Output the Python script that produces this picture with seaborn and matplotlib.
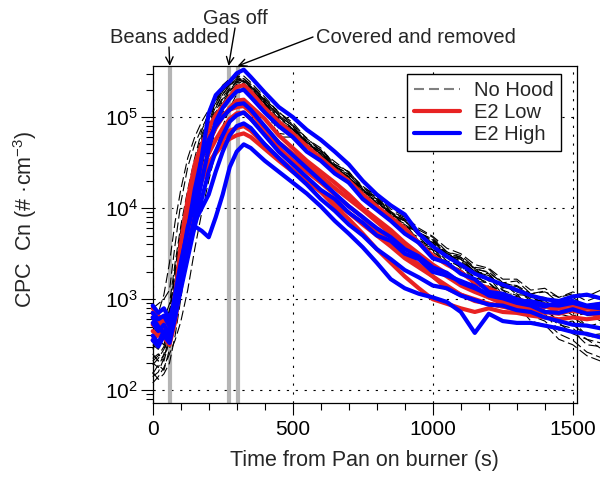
import matplotlib
matplotlib.use("Agg")
import numpy as np
import pandas as pd
import seaborn as sns
import matplotlib.pyplot as plt
from matplotlib.lines import Line2D
from matplotlib.ticker import MultipleLocator, LogLocator

# ---------------- data ----------------
# time from pan on burner (s)
time_s = [0, 20, 40, 60, 80, 100,
          125, 150, 175, 200, 225, 250, 275, 300, 325, 350,
          400, 450,
          500, 550, 600, 650, 700, 750, 800, 850, 900, 950,
          1000, 1050, 1100, 1150, 1200, 1250, 1300, 1350, 1400, 1450,
          1500, 1550, 1600]

# event markers (s): beans added, gas off, covered and removed
event_times = [61, 271, 303]
event_labels = ["Beans added", "Gas off", "Covered and removed"]

# CPC number concentration, stored as log10(#/cm3)
no_hood_log10 = [
    [2.30, 2.25, 2.40, 2.70, 3.20, 3.60, 4.00, 4.40, 4.70, 4.95, 5.15, 5.28, 5.38, 5.45, 5.42, 5.35, 5.18, 5.02,
     4.90, 4.70, 4.62, 4.45, 4.37, 4.20, 4.10, 3.92, 3.87, 3.70, 3.62, 3.48, 3.45, 3.30, 3.28, 3.12, 3.14, 2.98, 2.99, 2.84, 2.86, 2.70, 2.74],
    [2.15, 2.20, 2.35, 2.60, 3.05, 3.45, 3.90, 4.30, 4.62, 4.88, 5.10, 5.25, 5.35, 5.40, 5.36, 5.30, 5.15, 4.95,
     4.86, 4.68, 4.60, 4.42, 4.34, 4.15, 4.08, 3.90, 3.83, 3.64, 3.60, 3.44, 3.40, 3.22, 3.24, 3.05, 3.06, 2.88, 2.92, 2.74, 2.76, 2.60, 2.62],
    [2.50, 2.45, 2.60, 2.85, 3.30, 3.75, 4.15, 4.50, 4.80, 5.02, 5.20, 5.32, 5.40, 5.48, 5.45, 5.38, 5.22, 5.05,
     4.94, 4.76, 4.66, 4.48, 4.40, 4.22, 4.15, 3.96, 3.90, 3.76, 3.68, 3.52, 3.48, 3.35, 3.33, 3.18, 3.20, 3.06, 3.09, 2.96, 3.02, 2.92, 2.96],
    [2.35, 2.40, 2.32, 2.55, 2.95, 3.40, 3.85, 4.25, 4.55, 4.80, 5.05, 5.20, 5.30, 5.35, 5.33, 5.28, 5.12, 4.90,
     4.82, 4.66, 4.58, 4.40, 4.32, 4.12, 4.05, 3.86, 3.80, 3.62, 3.56, 3.40, 3.37, 3.20, 3.18, 3.02, 3.03, 2.85, 2.84, 2.66, 2.65, 2.50, 2.48],
    [2.90, 2.95, 3.00, 3.10, 3.60, 4.05, 4.45, 4.70, 4.88, 5.02, 5.22, 5.35, 5.42, 5.46, 5.42, 5.36, 5.20, 5.04,
     4.92, 4.74, 4.64, 4.48, 4.40, 4.22, 4.12, 3.96, 3.88, 3.73, 3.65, 3.50, 3.46, 3.33, 3.30, 3.17, 3.15, 3.06, 3.08, 3.02, 3.08, 3.03, 3.10],
    [2.20, 2.12, 2.18, 2.30, 2.60, 3.00, 3.50, 3.95, 4.30, 4.60, 4.85, 5.05, 5.20, 5.30, 5.32, 5.28, 5.14, 4.82,
     4.80, 4.62, 4.56, 4.38, 4.30, 4.12, 4.03, 3.85, 3.78, 3.60, 3.54, 3.38, 3.32, 3.15, 3.12, 2.95, 2.94, 2.76, 2.72, 2.56, 2.50, 2.38, 2.32],
    [2.45, 2.55, 2.50, 2.75, 3.15, 3.55, 4.00, 4.38, 4.68, 4.92, 5.12, 5.25, 5.35, 5.42, 5.40, 5.32, 5.16, 4.98,
     4.88, 4.70, 4.60, 4.44, 4.34, 4.18, 4.08, 3.92, 3.86, 3.70, 3.64, 3.48, 3.44, 3.30, 3.26, 3.13, 3.10, 2.98, 2.94, 2.84, 2.80, 2.70, 2.68],
    [2.08, 2.15, 2.25, 2.40, 2.55, 2.75, 3.10, 3.55, 3.95, 4.30, 4.62, 4.90, 5.10, 5.25, 5.30, 5.26, 5.12, 4.78,
     4.78, 4.62, 4.55, 4.38, 4.28, 4.14, 4.00, 3.86, 3.76, 3.62, 3.52, 3.40, 3.32, 3.20, 3.12, 3.00, 2.94, 2.82, 2.76, 2.62, 2.55, 2.42, 2.36],
    [2.60, 2.70, 2.78, 2.95, 3.40, 3.80, 4.20, 4.55, 4.85, 5.05, 5.22, 5.32, 5.40, 5.42, 5.38, 5.30, 5.15, 5.00,
     4.87, 4.73, 4.60, 4.46, 4.33, 4.20, 4.06, 3.95, 3.82, 3.72, 3.60, 3.50, 3.40, 3.32, 3.22, 3.15, 3.08, 3.02, 2.96, 2.92, 2.86, 2.84, 2.80],
    [2.28, 2.35, 2.45, 2.62, 3.00, 3.35, 3.75, 4.15, 4.48, 4.75, 5.00, 5.18, 5.30, 5.38, 5.36, 5.30, 5.16, 4.92,
     4.88, 4.72, 4.62, 4.46, 4.37, 4.20, 4.12, 3.95, 3.88, 3.73, 3.66, 3.52, 3.46, 3.34, 3.29, 3.18, 3.14, 3.04, 3.02, 2.94, 2.92, 2.86, 2.87],
    [2.70, 2.62, 2.72, 2.88, 3.25, 3.65, 4.05, 4.45, 4.75, 5.00, 5.18, 5.30, 5.38, 5.44, 5.40, 5.34, 5.18, 5.02,
     4.90, 4.72, 4.64, 4.46, 4.38, 4.20, 4.10, 3.94, 3.86, 3.72, 3.64, 3.50, 3.44, 3.30, 3.24, 3.10, 3.04, 2.92, 2.88, 2.76, 2.72, 2.60, 2.57],
    [2.40, 2.32, 2.38, 2.50, 2.85, 3.25, 3.70, 4.10, 4.45, 4.72, 4.98, 5.15, 5.28, 5.36, 5.35, 5.30, 5.15, 4.88,
     4.87, 4.70, 4.62, 4.44, 4.35, 4.18, 4.10, 3.94, 3.86, 3.70, 3.62, 3.48, 3.42, 3.30, 3.26, 3.14, 3.10, 3.00, 2.98, 2.90, 2.90, 2.82, 2.82],
    [2.75, 2.85, 3.05, 3.40, 3.85, 4.20, 4.55, 4.78, 4.95, 5.08, 5.20, 5.30, 5.38, 5.42, 5.40, 5.33, 5.17, 5.02,
     4.86, 4.74, 4.58, 4.47, 4.32, 4.21, 4.05, 3.96, 3.80, 3.73, 3.58, 3.52, 3.38, 3.34, 3.20, 3.18, 3.05, 3.04, 2.92, 2.93, 2.82, 2.84, 2.76],
    [2.18, 2.28, 2.22, 2.45, 2.80, 3.15, 3.60, 4.00, 4.38, 4.66, 4.92, 5.12, 5.25, 5.34, 5.33, 5.27, 5.10, 4.96,
     4.80, 4.68, 4.52, 4.42, 4.26, 4.16, 4.00, 3.92, 3.76, 3.68, 3.54, 3.47, 3.34, 3.28, 3.14, 3.10, 2.96, 2.92, 2.80, 2.74, 2.62, 2.56, 2.46],
    [2.55, 2.48, 2.58, 2.80, 3.35, 3.70, 4.10, 4.48, 4.76, 4.98, 5.16, 5.28, 5.36, 5.41, 5.39, 5.33, 5.19, 5.06,
     4.91, 4.77, 4.63, 4.51, 4.39, 4.24, 4.13, 3.99, 3.91, 3.78, 3.69, 3.56, 3.50, 3.38, 3.34, 3.22, 3.22, 3.10, 3.12, 3.02, 3.06, 2.98, 3.04],
    [2.32, 2.38, 2.48, 2.66, 3.10, 3.50, 3.92, 4.32, 4.62, 4.86, 5.06, 5.22, 5.32, 5.39, 5.37, 5.31, 5.14, 4.97,
     4.84, 4.66, 4.56, 4.40, 4.30, 4.14, 4.04, 3.88, 3.80, 3.64, 3.57, 3.42, 3.36, 3.24, 3.18, 3.06, 3.00, 2.88, 2.84, 2.72, 2.68, 2.56, 2.52],
]

e2_low_log10 = [
    [2.90, 2.82, 2.75, 2.62, 3.00, 3.60, 4.10, 4.48, 4.70, 4.88, 5.02, 5.12, 5.22, 5.33, 5.35, 5.28, 5.10, 4.95,
     4.82, 4.68, 4.55, 4.42, 4.30, 4.15, 4.02, 3.90, 3.78, 3.62, 3.48, 3.38, 3.30, 3.18, 3.12, 3.05, 3.00, 2.96, 2.94, 2.92, 2.95, 2.92, 2.95],
    [2.80, 2.75, 2.70, 2.58, 2.90, 3.40, 3.95, 4.35, 4.55, 4.72, 4.88, 5.00, 5.10, 5.18, 5.19, 5.12, 4.98, 4.80,
     4.66, 4.52, 4.40, 4.28, 4.15, 4.00, 3.88, 3.76, 3.62, 3.50, 3.38, 3.28, 3.18, 3.10, 3.02, 2.95, 2.92, 2.88, 2.85, 2.90, 2.87, 2.85, 2.88],
    [2.65, 2.60, 2.68, 2.52, 2.85, 3.30, 3.80, 4.20, 4.40, 4.60, 4.75, 4.88, 4.98, 5.04, 5.05, 4.98, 4.82, 4.66,
     4.52, 4.40, 4.28, 4.15, 4.02, 3.90, 3.75, 3.62, 3.50, 3.38, 3.25, 3.12, 3.05, 3.00, 2.95, 2.92, 2.88, 2.90, 2.86, 2.84, 2.88, 2.85, 2.82],
    [2.55, 2.62, 2.58, 2.50, 2.75, 3.20, 3.70, 4.05, 4.30, 4.48, 4.62, 4.75, 4.85, 4.88, 4.90, 4.85, 4.70, 4.55,
     4.42, 4.30, 4.18, 4.02, 3.88, 3.72, 3.55, 3.40, 3.25, 3.12, 3.00, 2.95, 2.90, 2.86, 2.90, 2.86, 2.85, 2.82, 2.80, 2.78, 2.80, 2.78, 2.80],
    [2.72, 2.68, 2.60, 2.55, 2.80, 3.25, 3.75, 4.10, 4.35, 4.50, 4.60, 4.70, 4.76, 4.80, 4.82, 4.78, 4.65, 4.52,
     4.40, 4.30, 4.18, 4.05, 3.95, 3.82, 3.70, 3.58, 3.45, 3.35, 3.25, 3.15, 3.05, 2.98, 2.95, 2.92, 2.90, 2.88, 2.92, 2.90, 2.88, 2.90, 2.92],
    [2.85, 2.78, 2.72, 2.66, 3.05, 3.50, 4.00, 4.40, 4.60, 4.78, 4.92, 5.02, 5.08, 5.11, 5.12, 5.05, 4.88, 4.72,
     4.60, 4.48, 4.35, 4.22, 4.10, 3.98, 3.85, 3.72, 3.60, 3.48, 3.35, 3.25, 3.15, 3.08, 3.02, 2.98, 2.95, 2.92, 2.92, 2.95, 2.92, 2.90, 2.90],
]

e2_high_log10 = [
    [2.93, 2.85, 2.90, 2.78, 3.00, 3.35, 3.79, 4.05, 4.56, 5.04, 5.24, 5.32, 5.39, 5.48, 5.52, 5.44, 5.27, 5.11,
     5.00, 4.86, 4.75, 4.62, 4.48, 4.30, 4.15, 4.03, 3.93, 3.72, 3.58, 3.47, 3.38, 3.28, 3.22, 3.16, 3.10, 3.04, 3.00, 2.98, 3.03, 3.05, 3.01],
    [2.74, 2.65, 2.72, 2.60, 2.90, 3.20, 3.55, 3.90, 4.30, 4.65, 4.95, 5.10, 5.20, 5.28, 5.30, 5.22, 5.05, 4.90,
     4.78, 4.62, 4.52, 4.38, 4.28, 4.10, 3.98, 3.86, 3.72, 3.62, 3.45, 3.40, 3.28, 3.22, 3.08, 3.06, 3.00, 2.96, 2.92, 2.97, 2.98, 2.93, 2.95],
    [2.55, 2.48, 2.60, 2.52, 2.80, 3.10, 3.45, 3.80, 4.10, 4.40, 4.62, 4.80, 4.95, 5.02, 5.05, 4.98, 4.80, 4.62,
     4.48, 4.34, 4.20, 4.10, 3.95, 3.84, 3.70, 3.64, 3.50, 3.44, 3.30, 3.26, 3.20, 3.14, 3.04, 3.01, 2.96, 2.93, 2.86, 2.85, 2.89, 2.84, 2.85],
    [2.80, 2.70, 2.62, 2.68, 2.85, 3.15, 3.50, 3.85, 4.00, 4.15, 4.40, 4.62, 4.80, 4.90, 4.93, 4.88, 4.70, 4.55,
     4.40, 4.26, 4.10, 3.97, 3.82, 3.70, 3.55, 3.44, 3.32, 3.24, 3.15, 3.12, 3.04, 2.99, 2.94, 2.93, 2.88, 2.86, 2.80, 2.76, 2.72, 2.71, 2.68],
    [2.60, 2.52, 2.65, 2.58, 2.80, 3.20, 3.55, 3.80, 3.75, 3.68, 3.90, 4.15, 4.45, 4.62, 4.70, 4.66, 4.52, 4.40,
     4.28, 4.16, 4.02, 3.86, 3.72, 3.57, 3.40, 3.22, 3.12, 3.06, 3.02, 2.97, 2.86, 2.63, 2.84, 2.76, 2.74, 2.74, 2.71, 2.68, 2.64, 2.62, 2.58],
    [2.85, 2.78, 2.82, 2.70, 3.05, 3.40, 3.75, 4.20, 4.55, 4.75, 4.90, 5.00, 5.08, 5.14, 5.15, 5.08, 4.90, 4.72,
     4.58, 4.44, 4.30, 4.16, 4.02, 3.90, 3.78, 3.68, 3.55, 3.47, 3.35, 3.29, 3.18, 3.12, 3.05, 3.03, 2.98, 2.98, 2.94, 2.93, 2.96, 2.92, 2.90],
]

group_names = ["No Hood", "E2 Low", "E2 High"]

# ---------------- long table ----------------
rows = []
for gname, runs in zip(group_names, [no_hood_log10, e2_low_log10, e2_high_log10]):
    for i, run in enumerate(runs):
        if len(run) != len(time_s):
            raise ValueError(f"{gname} run {i} has {len(run)} values")
        for t, v in zip(time_s, run):
            rows.append({"group": gname, "run": f"{gname}-{i}", "time": t, "cn": 10.0 ** v})
df = pd.DataFrame(rows)

# ---------------- style ----------------
sns.set_style("ticks")
plt.rcParams["font.family"] = ["Liberation Sans", "DejaVu Sans"]
plt.rcParams["mathtext.fontset"] = "custom"
plt.rcParams["mathtext.rm"] = "Liberation Sans"
plt.rcParams["mathtext.it"] = "Liberation Sans:italic"
plt.rcParams["mathtext.bf"] = "Liberation Sans:bold"

RED = "#e82222"
BLUE = "#0000ff"

fig = plt.figure(figsize=(6.0, 4.79), dpi=100)
ax = fig.add_axes([0.2545, 0.1587, 0.7072, 0.7035])
ax.set_yscale("log")

styles = {
    "No Hood": dict(color="black", lw=0.8, ls=(0, (9, 3.5)), zorder=3),
    "E2 Low": dict(color=RED, lw=3.0, ls="-", zorder=4),
    "E2 High": dict(color=BLUE, lw=3.0, ls="-", zorder=5),
}
for g in group_names:
    sns.lineplot(data=df[df["group"] == g], x="time", y="cn", units="run",
                 estimator=None, legend=False, ax=ax, clip_on=False,
                 solid_joinstyle="round", **styles[g])

for t in event_times:
    ax.axvline(t, color="#b4b4b4", lw=3.0, zorder=1.5)

ax.set_xlim(0, 1515)
ax.set_ylim(72.6, 3.63e5)

ax.set_xticks([0, 500, 1000, 1500])
ax.xaxis.set_minor_locator(MultipleLocator(100))
ax.yaxis.set_major_locator(LogLocator(base=10))
ax.yaxis.set_minor_locator(LogLocator(base=10, subs=range(2, 10)))

ax.grid(True, which="major", color="black", ls=(0, (2, 6)), lw=0.8)
ax.set_axisbelow(True)

ax.tick_params(which="major", direction="out", length=8.5, width=0.8,
               labelsize=15, colors="black", top=False, right=False)
ax.tick_params(which="minor", direction="out", length=5, width=0.8,
               top=False, right=False, color="black")
ax.tick_params(axis="y", which="major", pad=2)
for sp in ax.spines.values():
    sp.set_visible(True)
    sp.set_color("black")
    sp.set_linewidth(0.9)

ax.set_xlabel("Time from Pan on burner (s)", fontsize=15.5, labelpad=8)
ax.set_ylabel(r"CPC  Cn (# ·cm$^{\mathregular{-3}}$)", fontsize=15.5)
ax.yaxis.set_label_coords(-0.268, 0.546)

handles = [
    Line2D([], [], color="#808080", lw=1.5, ls=(0, (4.8, 2.4))),
    Line2D([], [], color=RED, lw=3.0),
    Line2D([], [], color=BLUE, lw=3.0),
]
leg = ax.legend(handles, group_names, loc="upper right",
                bbox_to_anchor=(0.962, 0.976), borderaxespad=0,
                frameon=True, fancybox=False, framealpha=1, edgecolor="black",
                fontsize=14.5, handlelength=2.3, handletextpad=0.7,
                labelspacing=0.15, borderpad=0.35)
leg.get_frame().set_linewidth(1.0)
leg.set_zorder(10)

# ---------------- event annotations ----------------
ytop = ax.get_ylim()[1]
W, H = 600.0, 479.0
text_pos = [(169, 43), (235.5, 24), (415.5, 43)]      # (x px, baseline px from top)
arrow_start = [(169, 47), (235, 28), (313, 37)]        # px from top
for label, t, (tx, ty), (sx, sy) in zip(event_labels, event_times, text_pos, arrow_start):
    fig.text(tx / W, 1 - ty / H, label, ha="center", va="baseline", fontsize=14.5)
    ax.annotate("", xy=(t, ytop), xycoords="data",
                xytext=(sx / W, 1 - sy / H), textcoords="figure fraction",
                arrowprops=dict(arrowstyle="->,head_length=0.45,head_width=0.22",
                                color="black", lw=1.0, shrinkA=0, shrinkB=0,
                                mutation_scale=12),
                annotation_clip=False)

fig.savefig("out.png", dpi=100)
